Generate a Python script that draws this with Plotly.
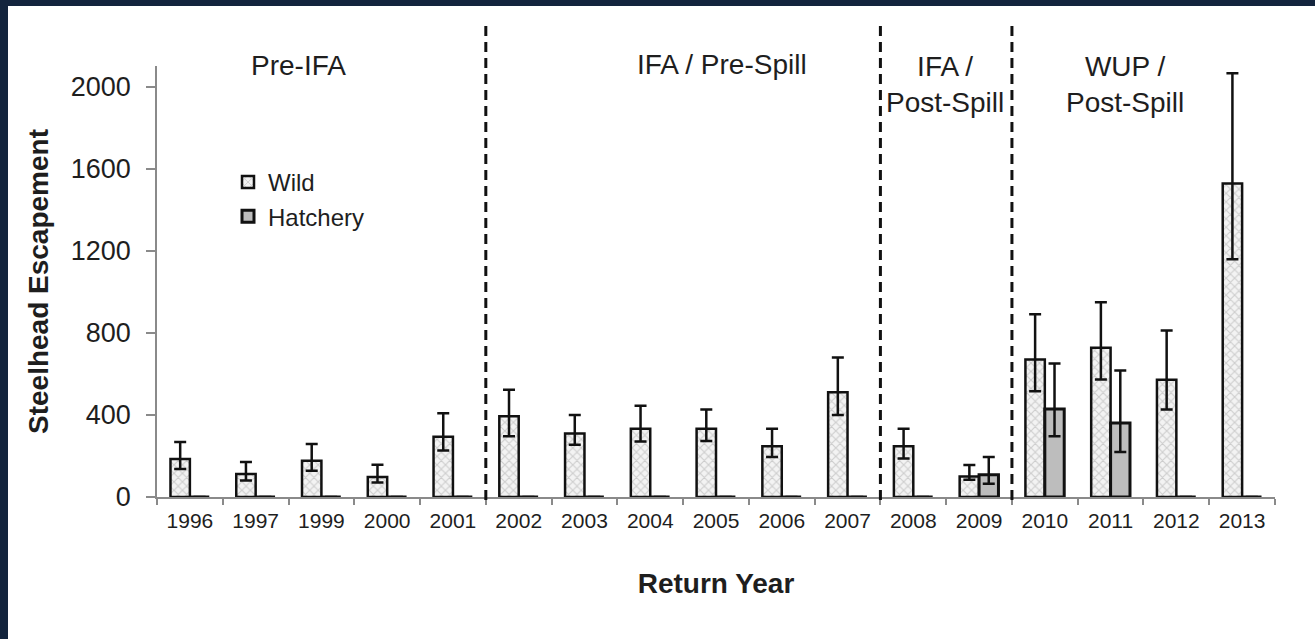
import plotly.graph_objects as go

years = ["1996", "1997", "1999", "2000", "2001", "2002", "2003", "2004", "2005",
         "2006", "2007", "2008", "2009", "2010", "2011", "2012", "2013"]
wild = [185, 112, 177, 97, 294, 393, 309, 333, 333, 247, 510, 247, 100, 670, 727, 571, 1527]
wild_upper = [268, 171, 258, 157, 408, 523, 400, 445, 426, 332, 680, 333, 156, 891, 949, 811, 2065]
wild_lower = [137, 81, 128, 71, 227, 296, 254, 270, 273, 195, 400, 187, 84, 515, 572, 426, 1158]
hatchery = [0, 0, 0, 0, 0, 0, 0, 0, 0, 0, 0, 0, 109, 429, 361, 0, 0]
hatch_upper = [None] * 12 + [195, 650, 616, None, None]
hatch_lower = [None] * 12 + [65, 296, 219, None, None]

period_labels = ["Pre-IFA", "IFA / Pre-Spill", "IFA /<br>Post-Spill", "WUP /<br>Post-Spill"]
period_breaks = [4.5, 10.5, 12.5]

FONT = "Liberation Sans, Arial, sans-serif"
TXT = "#1e1e1e"


def plus(vals, ups):
    return [None if u is None else u - v for v, u in zip(vals, ups)]


def minus(vals, los):
    return [None if lo is None else v - lo for v, lo in zip(vals, los)]


fig = go.Figure()
fig.add_trace(go.Bar(
    x=years, y=wild, name="Wild", legendgroup="w",
    marker=dict(color="#f0f0f0", line=dict(color="#111111", width=2.5),
                pattern=dict(shape="x", fgcolor="#a8a8a8", bgcolor="#f3f3f3", size=6, solidity=0.35)),
    error_y=dict(type="data", symmetric=False, array=plus(wild, wild_upper),
                 arrayminus=minus(wild, wild_lower), color="#111111", thickness=2.5, width=6),
))
fig.add_trace(go.Bar(
    x=years, y=hatchery, name="Hatchery", legendgroup="h",
    marker=dict(color="#bdbdbd", line=dict(color="#111111", width=3)),
    error_y=dict(type="data", symmetric=False, array=plus(hatchery, hatch_upper),
                 arrayminus=minus(hatchery, hatch_lower), color="#111111", thickness=2.5, width=6),
))

W, L = 1118, 157
H, B = 431, 497
TOP = B - H


def px(xp):
    return (xp - L) / W


def py(yp):
    return (B - yp) / H


shapes = []
for b in period_breaks:
    shapes.append(dict(type="line", xref="x", yref="paper", x0=b, x1=b, y0=py(500), y1=py(23),
                       line=dict(color="#111111", width=3, dash="10px,6px")))
# dark frame strips (top and left)
shapes.append(dict(type="rect", xref="paper", yref="paper", x0=px(-20), x1=px(1400), y0=py(6), y1=py(-20),
                   line=dict(width=0), fillcolor="#13243d", layer="above"))
shapes.append(dict(type="rect", xref="paper", yref="paper", x0=px(-20), x1=px(8), y0=py(700), y1=py(-20),
                   line=dict(width=0), fillcolor="#13243d", layer="above"))

annotations = [
    dict(text=period_labels[0], x=px(298), y=py(65)),
    dict(text=period_labels[1], x=px(722), y=py(64)),
    dict(text=period_labels[2], x=px(945), y=py(84)),
    dict(text=period_labels[3], x=px(1125), y=py(84)),
]
for a in annotations:
    a.update(xref="paper", yref="paper", showarrow=False, xanchor="center", yanchor="middle",
             align="center", font=dict(family=FONT, size=28, color=TXT))

fig.update_layout(
    width=1315, height=639,
    margin=dict(l=L, r=1315 - L - W, t=TOP, b=639 - B, pad=0),
    paper_bgcolor="white", plot_bgcolor="white",
    barmode="group", bargap=0.41, bargroupgap=0,
    font=dict(family=FONT, color=TXT),
    showlegend=True,
    legend=dict(x=px(228), y=py(160), xanchor="left", yanchor="top",
                font=dict(family=FONT, size=24, color=TXT), bgcolor="rgba(0,0,0,0)",
                traceorder="grouped", tracegroupgap=0, itemwidth=30),
    xaxis=dict(type="category", showgrid=False, showline=True, linecolor="#8a8a8a", linewidth=1.5,
               ticks="outside", tickson="boundaries", ticklen=6, tickcolor="#8a8a8a", tickwidth=1.5,
               tickfont=dict(family=FONT, size=21, color=TXT), ticklabelstandoff=4,
               title=dict(text="<b>Return Year</b>", font=dict(family=FONT, size=28, color=TXT), standoff=42)),
    yaxis=dict(range=[0, 2100], tickvals=[0, 400, 800, 1200, 1600, 2000], showgrid=False, zeroline=False,
               showline=True, linecolor="#8a8a8a", linewidth=1.5,
               ticks="outside", ticklen=9, tickcolor="#8a8a8a", tickwidth=1.5,
               tickfont=dict(family=FONT, size=27, color=TXT), ticklabelstandoff=10,
               title=dict(text="<b>Steelhead Escapement</b>", font=dict(family=FONT, size=28, color=TXT), standoff=14)),
    shapes=shapes,
    annotations=annotations,
)

fig.write_html("out.html", config={"displayModeBar": False},
               post_script="document.body.style.margin='0px';document.body.style.overflow='hidden';")
